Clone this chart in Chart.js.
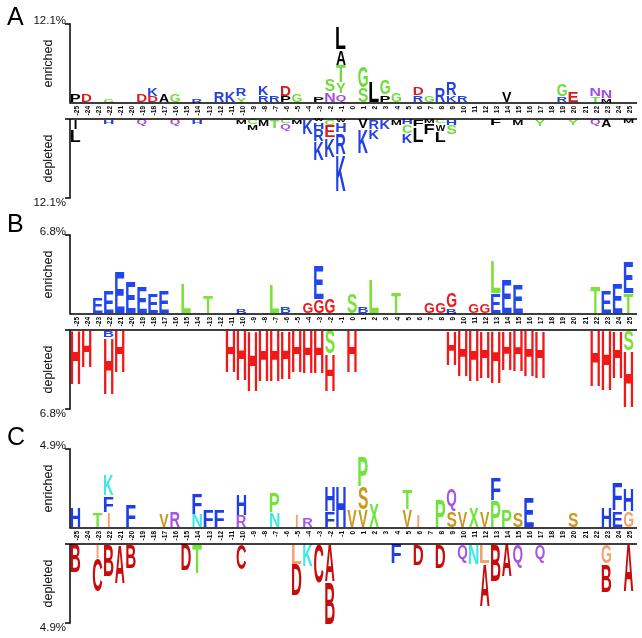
<!DOCTYPE html>
<html>
<head>
<meta charset="UTF-8">
<title>Sequence logos</title>
<script src="https://cdn.jsdelivr.net/npm/chart.js@4.4.0/dist/chart.umd.min.js"></script>
<style>
  body { margin: 0; background: #fff; }
  #wrap { position: relative; width: 642px; height: 638px; overflow: hidden; }
  canvas { position: absolute; left: 0; }
</style>
</head>
<body>
<div id="wrap">
  <canvas id="logoA" width="642" height="215" style="top:0px"></canvas>
  <canvas id="logoB" width="642" height="215" style="top:211px"></canvas>
  <canvas id="logoC" width="642" height="215" style="top:425px"></canvas>
</div>
<script>
// positions along the peptide (x categories / tick labels)
const positions = [-25, -24, -23, -22, -21, -20, -19, -18, -17, -16, -15, -14, -13, -12, -11, -10,
  -9, -8, -7, -6, -5, -4, -3, -2, -1, 0, 1, 2, 3, 4, 5, 6, 7, 8, 9, 10, 11, 12, 13, 14, 15, 16,
  17, 18, 19, 20, 21, 22, 23, 24, 25];

const panelNames = ['A', 'B', 'C'];
const scaleMax = [12.1, 6.8, 4.9];   // percent, top and bottom of each panel

// [position, letters from the baseline outward, heights in %]
const aUp = [
  [-25, 'P', [1.38]], [-24, 'D', [1.33]], [-22, 'G', [0.6]], [-19, 'D', [1.33]],
  [-18, 'DK', [1.05, 1.3]], [-17, 'A', [1.33]], [-16, 'G', [1.33]], [-14, 'R', [0.6]],
  [-12, 'R', [1.78]], [-11, 'K', [1.78]], [-10, 'YR', [0.92, 1.33]], [-8, 'RK', [1.2, 1.55]],
  [-7, 'R', [1.15]], [-6, 'PD', [1.05, 1.78]], [-5, 'G', [1.33]], [-3, 'P', [1.0]],
  [-2, 'NS', [1.65, 1.99]], [-1, 'QYTAL', [1.38, 1.73, 2.65, 2.35, 3.57]], [1, 'SG', [2.35, 3.47]],
  [2, 'L', [3.37]], [3, 'PG', [1.2, 2.3]], [4, 'G', [1.48]], [6, 'RD', [1.15, 1.33]],
  [7, 'G', [1.22]], [8, 'R', [2.4]], [9, 'KR', [1.17, 2.19]], [10, 'R', [1.12]],
  [14, 'V', [1.73]], [19, 'RG', [1.02, 1.99]], [20, 'E', [1.73]], [22, 'TN', [1.0, 1.35]],
  [23, 'MN', [0.65, 1.35]]
];
const aDown = [
  [-25, 'IL', [1.6, 1.94]], [-22, 'H', [0.8]], [-19, 'Q', [1.05]], [-16, 'Q', [1.05]],
  [-14, 'H', [0.8]], [-10, 'M', [0.8]], [-9, 'CM', [0.82, 0.87]], [-8, 'M', [1.15]],
  [-7, 'T', [1.45]], [-6, 'CQ', [0.7, 1.1]], [-5, 'M', [0.8]], [-4, 'K', [2.4]],
  [-3, 'WHRK', [0.4, 1.15, 1.94, 2.85]], [-2, 'CEK', [1.02, 1.84, 3.0]],
  [-1, 'WHRK', [0.45, 1.65, 3.35, 5.6]], [1, 'VK', [1.53, 3.83]], [2, 'RK', [1.63, 1.48]],
  [3, 'K', [1.55]], [4, 'M', [0.95]], [5, 'HCK', [0.82, 1.38, 1.53]], [6, 'FL', [1.22, 2.4]],
  [7, 'MF', [0.6, 1.75]], [8, 'CWL', [0.66, 1.22, 1.73]], [9, 'HS', [0.92, 1.53]],
  [13, 'F', [1.05]], [15, 'M', [0.95]], [17, 'Y', [1.15]], [20, 'Y', [0.95]],
  [22, 'Q', [1.05]], [23, 'A', [1.35]], [25, 'M', [0.65]]
];

const bUp = [
  [-23, 'E', [1.4]], [-22, 'E', [1.98]], [-21, 'E', [3.63]], [-20, 'E', [2.7]],
  [-19, 'E', [2.32]], [-18, 'E', [1.77]], [-17, 'E', [1.98]], [-15, 'L', [2.6]],
  [-13, 'T', [1.54]], [-10, 'B', [0.47]], [-7, 'L', [2.5]], [-6, 'B', [0.61]],
  [-4, 'G', [1.02]], [-3, 'GE', [1.25, 2.96]], [-2, 'G', [1.31]], [0, 'S', [1.83]],
  [1, 'B', [0.61]], [2, 'L', [3.0]], [4, 'T', [1.89]], [7, 'G', [1.05]], [8, 'G', [1.05]],
  [9, 'BG', [0.5, 1.37]], [11, 'G', [0.9]], [12, 'G', [0.9]], [13, 'EL', [1.77, 2.9]],
  [14, 'E', [3.0]], [15, 'E', [2.56]], [22, 'T', [2.32]], [23, 'E', [1.98]],
  [24, 'E', [2.6]], [25, 'TE', [1.77, 2.7]]
];
const bDown = [
  [-25, 'H', [4.7]], [-24, 'H', [3.25]], [-22, 'BH', [0.67, 4.88]], [-21, 'H', [3.69]],
  [-11, 'H', [3.69]], [-10, 'H', [4.36]], [-9, 'H', [5.29]], [-8, 'H', [4.45]],
  [-7, 'H', [4.45]], [-6, 'H', [4.27]], [-5, 'H', [3.69]], [-4, 'H', [3.78]],
  [-3, 'H', [3.78]], [-2, 'SH', [2.09, 3.17]], [0, 'H', [3.63]], [9, 'H', [3.05]],
  [10, 'H', [3.98]], [11, 'H', [4.45]], [12, 'H', [4.16]], [13, 'H', [4.59]],
  [14, 'H', [3.49]], [15, 'H', [3.58]], [16, 'H', [3.98]], [17, 'H', [4.16]],
  [22, 'H', [4.88]], [23, 'H', [5.23]], [24, 'H', [4.16]], [25, 'SH', [1.8, 4.91]]
];

const cUp = [
  [-25, 'H', [1.26]], [-23, 'T', [0.98]], [-22, 'IFK', [0.94, 1.07, 1.32]], [-20, 'F', [1.4]],
  [-17, 'V', [0.84]], [-16, 'R', [0.98]], [-14, 'NF', [0.84, 1.34]], [-13, 'F', [1.13]],
  [-12, 'F', [1.13]], [-10, 'RH', [0.77, 1.32]], [-7, 'NP', [0.92, 1.28]], [-5, 'I', [0.77]],
  [-4, 'R', [0.63]], [-2, 'FH', [1.03, 1.61]], [-1, 'H', [2.6]], [0, 'V', [1.1]],
  [1, 'VSP', [1.13, 1.42, 1.88]], [2, 'X', [1.51]], [5, 'VT', [1.13, 1.26]], [6, 'I', [0.77]],
  [8, 'P', [1.78]], [9, 'SQ', [1.05, 1.36]], [10, 'V', [0.98]], [11, 'X', [1.26]],
  [12, 'V', [0.98]], [13, 'PF', [1.65, 1.42]], [14, 'P', [1.09]], [15, 'S', [0.98]],
  [16, 'E', [1.93]], [20, 'S', [0.98]], [23, 'H', [1.26]], [24, 'EF', [1.03, 1.78]],
  [25, 'GH', [1.03, 1.42]]
];
const cDown = [
  [-25, 'B', [1.8]], [-23, 'IC', [0.88, 2.11]], [-22, 'B', [2.0]], [-21, 'A', [2.44]],
  [-20, 'B', [1.52]], [-15, 'D', [1.63]], [-14, 'T', [1.83]], [-10, 'C', [1.59]],
  [-5, 'LD', [1.29, 1.94]], [-4, 'K', [1.42]], [-3, 'C', [2.42]], [-2, 'AB', [2.34, 2.63]],
  [4, 'F', [1.25]], [6, 'D', [1.31]], [8, 'D', [1.52]], [10, 'Q', [1.25]], [11, 'N', [1.25]],
  [12, 'LA', [1.19, 2.67]], [13, 'B', [2.32]], [14, 'A', [2.05]], [15, 'Q', [1.52]],
  [17, 'Q', [1.21]], [23, 'GB', [1.25, 1.77]], [25, 'A', [2.94]]
];

// letter colours per panel
function palette(groups) {
  const map = {};
  Object.keys(groups).forEach(col => groups[col].split('').forEach(ch => map[ch] = col));
  return map;
}
const colorsA = palette({ '#000000': 'PALVMFWI', '#d41c1c': 'DE', '#6fdc3a': 'GSTYC',
  '#2341e0': 'KRH', '#a648e6': 'NQ' });
const colorsB = palette({ '#2147f0': 'EB', '#7ce23a': 'LTS', '#f01818': 'GH' });
const colorsC = palette({ '#c80c0c': 'BCAD', '#f3a36e': 'ILG', '#c9981f': 'VS',
  '#41e8e8': 'KN', '#1f3fe6': 'HFE', '#6ee43c': 'TPX', '#a752e8': 'RQ' });

// the label band between enriched and depleted, as a fraction of one half
const GAP = 16 / 79;

function buildLayers(stacks, sign, offset, tag) {
  const depth = Math.max(...stacks.map(s => s[1].length));
  const sets = [];
  for (let k = 0; k < depth; k++) {
    sets.push({ label: tag + k, data: positions.map(() => null), letters: positions.map(() => null),
      backgroundColor: 'rgba(0,0,0,0)', borderWidth: 0 });
  }
  stacks.forEach(([pos, seq, vals]) => {
    const i = positions.indexOf(pos);
    let cum = offset;
    for (let k = 0; k < seq.length; k++) {
      const next = cum + sign * vals[k];
      sets[k].data[i] = [cum, next];
      sets[k].letters[i] = seq[k];
      cum = next;
    }
  });
  return sets;
}

const glyphFont = 'bold 100px "Liberation Sans", Arial, sans-serif';
function drawGlyph(ctx, ch, color, left, top, w, h) {
  if (h < 0.5) return;
  ctx.save();
  ctx.font = glyphFont;
  const m = ctx.measureText(ch);
  const gl = m.actualBoundingBoxLeft, ga = m.actualBoundingBoxAscent;
  const gw = gl + m.actualBoundingBoxRight, gh = ga + m.actualBoundingBoxDescent;
  const tw = ch === 'I' ? w * 0.22 : w;
  const pad = Math.min(0.6, h * 0.08);
  ctx.translate(left + (w - tw) / 2, top + pad);
  ctx.scale(tw / gw, (h - 2 * pad) / gh);
  ctx.fillStyle = color;
  ctx.textAlign = 'left';
  ctx.textBaseline = 'alphabetic';
  ctx.fillText(ch, gl, ga);
  ctx.restore();
}

const letterPlugin = {
  id: 'logoLetters',
  afterDatasetsDraw(chart, args, opts) {
    const ctx = chart.ctx;
    chart.data.datasets.forEach((ds, di) => {
      chart.getDatasetMeta(di).data.forEach((bar, i) => {
        if (ds.data[i] == null) return;
        const { x, y, base, width } = bar.getProps(['x', 'y', 'base', 'width'], true);
        const ch = ds.letters[i];
        drawGlyph(ctx, ch, opts.colors[ch], x - width / 2, Math.min(y, base), width, Math.abs(base - y));
      });
    });
  }
};

const framePlugin = {
  id: 'logoFrame',
  afterDraw(chart, args, opts) {
    const { ctx, chartArea: ca, scales: { x, y } } = chart;
    const top = y.getPixelForValue(y.max), base = y.getPixelForValue(0);
    const low = y.getPixelForValue(-y.max * GAP), bottom = y.getPixelForValue(y.min);
    const ax = ca.left;
    ctx.save();
    ctx.strokeStyle = '#000';
    ctx.lineWidth = 1.5;
    ctx.beginPath();
    ctx.moveTo(ax - 5, top); ctx.lineTo(ax, top); ctx.lineTo(ax, base); ctx.lineTo(ca.right + 3, base);
    ctx.moveTo(ax - 5, low); ctx.lineTo(ca.right + 3, low);
    ctx.moveTo(ax, low); ctx.lineTo(ax, bottom); ctx.lineTo(ax - 5, bottom);
    ctx.stroke();

    // position labels in the band, read upwards, hanging from the baseline
    ctx.fillStyle = '#000';
    ctx.font = 'bold 6.5px "Liberation Sans", Arial, sans-serif';
    ctx.textAlign = 'right';
    ctx.textBaseline = 'middle';
    x.ticks.forEach((t, i) => {
      ctx.save();
      ctx.translate(x.getPixelForTick(i) + 1.5, base + 3);
      ctx.rotate(-Math.PI / 2);
      ctx.fillText(x.getLabelForValue(t.value), 0, 0);
      ctx.restore();
    });

    ctx.fillStyle = '#111';
    ctx.font = '11.5px "Liberation Sans", Arial, sans-serif';
    ctx.textAlign = 'right';
    ctx.textBaseline = 'alphabetic';
    ctx.fillText(opts.maxLabel, ax - 4, top);
    ctx.textBaseline = 'top';
    ctx.fillText(opts.maxLabel, ax - 4, bottom - 1);

    ctx.font = '12.5px "Liberation Sans", Arial, sans-serif';
    ctx.textAlign = 'center';
    ctx.textBaseline = 'middle';
    [['enriched', (top + base) / 2], ['depleted', (low + bottom) / 2]].forEach(([t, cy]) => {
      ctx.save();
      ctx.translate(49, cy);
      ctx.rotate(-Math.PI / 2);
      ctx.fillText(t, 0, 0);
      ctx.restore();
    });

    ctx.fillStyle = '#000';
    ctx.font = '25px "Liberation Sans", Arial, sans-serif';
    ctx.textAlign = 'left';
    ctx.textBaseline = 'alphabetic';
    ctx.fillText(opts.name, 7, opts.nameY);
    ctx.restore();
  }
};

function makeLogo(id, idx, up, down, colors, nameY) {
  const max = scaleMax[idx];
  const datasets = buildLayers(up, 1, 0, 'up').concat(buildLayers(down, -1, -max * GAP, 'down'));
  return new Chart(document.getElementById(id), {
    type: 'bar',
    data: { labels: positions.map(String), datasets },
    options: {
      responsive: false,
      animation: false,
      events: [],
      grouped: false,
      barPercentage: 0.86,
      categoryPercentage: 1.0,
      layout: { padding: { left: 70, right: 8, top: 24, bottom: 17 } },
      plugins: {
        legend: { display: false },
        tooltip: { enabled: false },
        logoLetters: { colors },
        logoFrame: { maxLabel: max + '%', name: panelNames[idx], nameY }
      },
      scales: {
        x: {
          type: 'category',
          position: { y: 0 },
          grid: { display: false, drawTicks: false },
          border: { display: false },
          ticks: { display: false, autoSkip: false }
        },
        y: { type: 'linear', display: false, min: -max * (1 + GAP), max: max }
      }
    },
    plugins: [letterPlugin, framePlugin]
  });
}

makeLogo('logoA', 0, aUp, aDown, colorsA, 25);
makeLogo('logoB', 1, bUp, bDown, colorsB, 21);
makeLogo('logoC', 2, cUp, cDown, colorsC, 20);
</script>
</body>
</html>
